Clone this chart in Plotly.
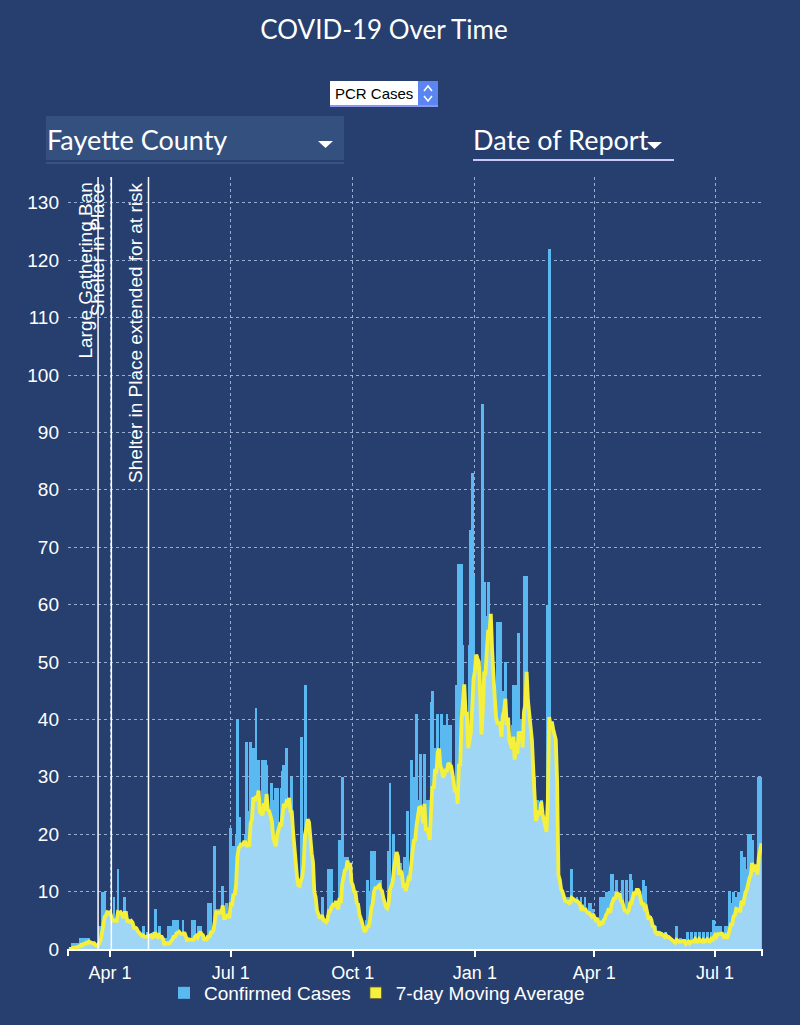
import pandas as pd
import plotly.graph_objects as go

# daily confirmed (PCR) cases, Fayette County, by date of report
cases_2020_03 = [0, 0, 0, 1, 0, 1, 0, 1, 0, 2, 0, 2, 1, 2, 0, 2, 1, 0, 1, 1, 0,
                 0, 1, 4, 4, 10, 10, 10, 2, 5, 3]
cases_2020_04 = [5, 4, 6, 9, 3, 4, 14, 4, 5, 3, 5, 9, 4, 3, 5, 4, 4, 3, 3, 4, 2,
                 2, 2, 2, 1, 4, 2, 2, 3, 2]
cases_2020_05 = [2, 2, 1, 3, 7, 0, 0, 4, 0, 1, 0, 0, 2, 0, 4, 0, 4, 1, 5, 0, 5,
                 5, 1, 2, 0, 5, 2, 1, 0, 2, 1]
cases_2020_06 = [0, 5, 2, 5, 1, 0, 4, 4, 2, 1, 0, 1, 0, 8, 2, 8, 1, 3, 18, 5, 7,
                 3, 7, 2, 11, 3, 5, 8, 6, 3]
cases_2020_07 = [21, 6, 18, 4, 20, 40, 14, 23, 10, 15, 8, 20, 36, 14, 24, 36, 20,
                 35, 15, 42, 12, 33, 10, 18, 33, 30, 33, 32, 14, 8, 10]
cases_2020_08 = [29, 10, 26, 28, 28, 16, 14, 28, 31, 32, 23, 35, 15, 20, 12, 30,
                 8, 4, 11, 2, 11, 11, 37, 12, 20, 46, 11, 21, 8, 9, 2]
cases_2020_09 = [9, 9, 5, 5, 4, 3, 5, 9, 4, 5, 3, 6, 14, 5, 14, 7, 4, 7, 6, 5,
                 19, 8, 30, 12, 16, 7, 16, 10, 14, 6]
cases_2020_10 = [9, 8, 6, 3, 8, 2, 2, 3, 1, 2, 5, 12, 3, 10, 17, 6, 17, 9, 12, 5,
                 12, 12, 4, 8, 3, 7, 4, 17, 29, 9, 12]
cases_2020_11 = [20, 15, 16, 12, 6, 15, 8, 5, 16, 9, 24, 10, 14, 33, 12, 30, 10,
                 41, 26, 20, 34, 8, 14, 34, 10, 26, 15, 26, 43, 45]
cases_2020_12 = [30, 35, 20, 41, 30, 22, 41, 20, 39, 25, 41, 39, 20, 39, 12, 25,
                 15, 46, 20, 67, 40, 67, 53, 30, 10, 20, 25, 53, 73, 83, 65]
cases_2021_01 = [20, 40, 20, 49, 33, 35, 95, 64, 40, 58, 64, 30, 58, 51, 20, 25,
                 35, 57, 30, 57, 35, 45, 31, 50, 25, 39, 30, 30, 39, 46, 22]
cases_2021_02 = [46, 25, 55, 30, 40, 28, 65, 55, 65, 20, 15, 25, 10, 30, 30, 26,
                 26, 22, 20, 26, 15, 21, 18, 21, 60, 122, 15, 20]
cases_2021_03 = [12, 10, 16, 8, 9, 10, 8, 9, 6, 9, 7, 9, 8, 9, 14, 5, 8, 6, 9, 5,
                 8, 9, 6, 4, 9, 5, 3, 8, 8, 3, 7]
cases_2021_04 = [4, 3, 5, 2, 4, 9, 3, 9, 5, 10, 4, 10, 3, 13, 13, 10, 8, 12, 6, 6,
                 4, 12, 4, 3, 12, 4, 8, 13, 12, 10]
cases_2021_05 = [10, 9, 10, 8, 10, 3, 4, 12, 3, 11, 2, 1, 6, 1, 4, 2, 4, 1, 3, 2,
                 3, 3, 1, 2, 3, 1, 2, 1, 2, 0, 1]
cases_2021_06 = [1, 4, 1, 0, 2, 1, 1, 1, 0, 3, 1, 0, 3, 1, 1, 3, 0, 1, 3, 1, 0,
                 3, 1, 1, 3, 1, 0, 3, 1, 5]
cases_2021_07 = [4, 1, 4, 0, 4, 1, 3, 0, 4, 1, 4, 10, 8, 3, 10, 5, 9, 3, 10, 5,
                 17, 4, 16, 14, 6, 20, 10, 20, 19, 8, 12]
cases_2021_08 = [14, 8, 30, 30, 27]

cases = (cases_2020_03 + cases_2020_04 + cases_2020_05 + cases_2020_06 +
         cases_2020_07 + cases_2020_08 + cases_2020_09 + cases_2020_10 +
         cases_2020_11 + cases_2020_12 + cases_2021_01 + cases_2021_02 +
         cases_2021_03 + cases_2021_04 + cases_2021_05 + cases_2021_06 +
         cases_2021_07 + cases_2021_08)
dates = pd.date_range('2020-03-01', periods=len(cases), freq='D')
moving_avg = pd.Series(cases).rolling(7, min_periods=1).mean().round(1)

tick_dates = ['2020-04-01', '2020-07-01', '2020-10-01',
              '2021-01-01', '2021-04-01', '2021-07-01']
tick_labels = ['Apr 1', 'Jul 1', 'Oct 1', 'Jan 1', 'Apr 1', 'Jul 1']

event_dates = ['2020-03-23', '2020-04-02', '2020-04-30']
event_labels = ['Large Gathering Ban', 'Shelter in Place',
                'Shelter in Place extended for at risk']

BG = '#263f6e'
BAR = '#5bb9f2'
AREA = '#9fd6f6'
YELLOW = '#f5f03c'
GRID = 'rgba(165,185,220,0.9)'
CHART_FONT = 'Liberation Sans, Arial, sans-serif'
HEAD_FONT = 'Lato, sans-serif'
DAY_MS = 86400000

# plot area in pixels, used to place the header widgets
PL, PR, PT, PB = 68, 762, 177, 949


def fx(px):
    return (px - PL) / (PR - PL)


def fy(py):
    return (PB - py) / (PB - PT)


fig = go.Figure()

# bars a bit wider than one day and overlapping, like the original widget
fig.add_trace(go.Bar(
    x=dates, y=cases, name='Confirmed Cases', width=2.2 * DAY_MS,
    marker=dict(color=BAR, line=dict(width=0)),
    hovertemplate='%{x|%b %d, %Y}<br>%{y} cases<extra></extra>'))

# light fill under the moving average
fig.add_trace(go.Scatter(
    x=dates, y=moving_avg, mode='lines', fill='tozeroy',
    fillcolor=AREA, line=dict(width=0), showlegend=False,
    hoverinfo='skip', legendgroup='ma'))

fig.add_trace(go.Scatter(
    x=dates, y=moving_avg, mode='lines', name='7-day Moving Average',
    line=dict(color=YELLOW, width=3.8), showlegend=False, legendgroup='ma',
    hovertemplate='%{x|%b %d, %Y}<br>7-day avg %{y}<extra></extra>'))

# square legend key for the moving average
fig.add_trace(go.Bar(
    x=[None], y=[None], name='7-day Moving Average', legendgroup='ma',
    marker=dict(color=YELLOW, line=dict(color='#444444', width=1))))

shapes = []
annotations = []

for d, label in zip(event_dates, event_labels):
    shapes.append(dict(type='line', xref='x', yref='paper',
                       x0=d, x1=d, y0=0, y1=1,
                       line=dict(color='white', width=1.5)))
    annotations.append(dict(x=d, y=1, xref='x', yref='paper',
                            text=label, textangle=-90, showarrow=False,
                            xanchor='right', yanchor='top', xshift=-1,
                            yshift=-4,
                            font=dict(family=CHART_FONT, size=19,
                                      color='white')))

# little end caps on the date axis
for px in (PL, PR):
    shapes.append(dict(type='line', xref='paper', yref='paper',
                       x0=fx(px), x1=fx(px), y0=0, y1=fy(PB + 7),
                       line=dict(color='white', width=2)))

# header widgets: measure selector, county selector, date selector
shapes += [
    dict(type='rect', xref='paper', yref='paper', x0=fx(330), x1=fx(438),
         y0=fy(106), y1=fy(81), fillcolor='white', line=dict(width=0)),
    dict(type='rect', xref='paper', yref='paper', x0=fx(418), x1=fx(438),
         y0=fy(106), y1=fy(81), fillcolor='#5b86f2', line=dict(width=0)),
    dict(type='path', xref='paper', yref='paper',
         path=f'M {fx(424)} {fy(91)} L {fx(428)} {fy(86)} L {fx(432)} {fy(91)}',
         line=dict(color='white', width=1.5)),
    dict(type='path', xref='paper', yref='paper',
         path=f'M {fx(424)} {fy(96)} L {fx(428)} {fy(101)} L {fx(432)} {fy(96)}',
         line=dict(color='white', width=1.5)),
    dict(type='line', xref='paper', yref='paper', x0=fx(330), x1=fx(438),
         y0=fy(106), y1=fy(106), line=dict(color='#8a97f2', width=2)),
    dict(type='rect', xref='paper', yref='paper', x0=fx(46), x1=fx(344),
         y0=fy(160), y1=fy(116), fillcolor='#34507f', line=dict(width=0)),
    dict(type='line', xref='paper', yref='paper', x0=fx(46), x1=fx(344),
         y0=fy(163), y1=fy(163), line=dict(color='#4a6593', width=1)),
    dict(type='path', xref='paper', yref='paper',
         path=f'M {fx(318)} {fy(141)} L {fx(333)} {fy(141)} '
              f'L {fx(325.5)} {fy(148)} Z',
         fillcolor='white', line=dict(width=0)),
    dict(type='path', xref='paper', yref='paper',
         path=f'M {fx(647)} {fy(142)} L {fx(662)} {fy(142)} '
              f'L {fx(654.5)} {fy(149)} Z',
         fillcolor='white', line=dict(width=0)),
    dict(type='line', xref='paper', yref='paper', x0=fx(473), x1=fx(674),
         y0=fy(160), y1=fy(160), line=dict(color='#c7c9f7', width=2)),
]

annotations += [
    dict(x=fx(374), y=fy(93.5), xref='paper', yref='paper', text='PCR Cases',
         showarrow=False, xanchor='center', yanchor='middle',
         font=dict(family=CHART_FONT, size=15, color='black')),
    dict(x=fx(45), y=fy(139), xref='paper', yref='paper',
         text='Fayette County', showarrow=False, xanchor='left',
         yanchor='middle', font=dict(family=HEAD_FONT, size=27,
                                     color='white')),
    dict(x=fx(471), y=fy(139), xref='paper', yref='paper',
         text='Date of Report', showarrow=False, xanchor='left',
         yanchor='middle', font=dict(family=HEAD_FONT, size=27,
                                     color='white')),
]

fig.update_layout(
    width=800, height=1025,
    margin=dict(l=PL, r=800 - PR, t=PT, b=1025 - PB),
    paper_bgcolor=BG, plot_bgcolor=BG,
    barmode='overlay', bargap=0,
    title=dict(text='COVID-19 Over Time', x=0.48, xref='container',
               xanchor='center', y=1 - 30 / 1025, yref='container',
               yanchor='middle',
               font=dict(family=HEAD_FONT, size=26, color='white')),
    font=dict(family=CHART_FONT, color='white'),
    showlegend=True,
    legend=dict(orientation='h', x=fx(377), xanchor='center',
                y=fy(993), yanchor='middle', bgcolor='rgba(0,0,0,0)',
                font=dict(family=CHART_FONT, size=19, color='white'),
                itemwidth=30, traceorder='normal'),
    shapes=shapes,
    annotations=annotations,
)

fig.update_xaxes(
    type='date', range=['2020-02-29 08:00', '2021-08-05 10:00'],
    tickvals=tick_dates, ticktext=tick_labels,
    tickfont=dict(size=18, color='white'),
    ticks='outside', ticklen=6, tickwidth=2, tickcolor='white',
    showline=True, linecolor='white', linewidth=2,
    showgrid=True, gridcolor=GRID, griddash='dot', gridwidth=1,
    zeroline=False, fixedrange=True)

fig.update_yaxes(
    range=[0, 134.5], dtick=10, tick0=0,
    tickfont=dict(size=19, color='white'), ticks='',
    ticklabelstandoff=8,
    showgrid=True, gridcolor=GRID, griddash='dot', gridwidth=1,
    showline=False, zeroline=False, fixedrange=True)

# page has no default body margin so the figure fills the window
fig.write_html('out.html',
               config={'displayModeBar': False},
               post_script="document.body.style.margin='0';"
                           "document.body.style.background='#263f6e';")
